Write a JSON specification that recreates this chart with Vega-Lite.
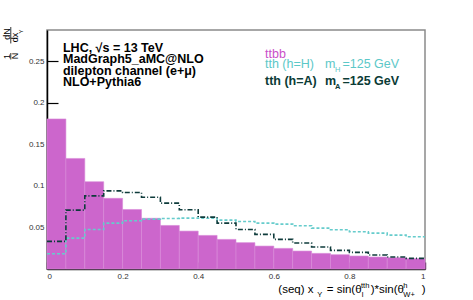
{
  "$schema": "https://vega.github.io/schema/vega-lite/v6.json",
  "width": 378,
  "height": 239,
  "autosize": {"type": "none"},
  "padding": {"left": 47, "top": 30, "right": 48, "bottom": 31},
  "background": "white",
  "config": {
    "view": {"stroke": "#8a8a8a", "strokeWidth": 1.5},
    "font": "Liberation Sans",
    "axis": {"grid": false, "zindex": 1}
  },
  "data": {
    "values": [
      {"x0": 0.00, "x1": 0.05, "ttbb": 0.1805, "tthH": 0.0184, "tthA": 0.0332},
      {"x0": 0.05, "x1": 0.10, "ttbb": 0.1330, "tthH": 0.0372, "tthA": 0.0708},
      {"x0": 0.10, "x1": 0.15, "ttbb": 0.1050, "tthH": 0.0476, "tthA": 0.0880},
      {"x0": 0.15, "x1": 0.20, "ttbb": 0.0850, "tthH": 0.0552, "tthA": 0.0940},
      {"x0": 0.20, "x1": 0.25, "ttbb": 0.0716, "tthH": 0.0580, "tthA": 0.0920},
      {"x0": 0.25, "x1": 0.30, "ttbb": 0.0610, "tthH": 0.0600, "tthA": 0.0864},
      {"x0": 0.30, "x1": 0.35, "ttbb": 0.0524, "tthH": 0.0608, "tthA": 0.0792},
      {"x0": 0.35, "x1": 0.40, "ttbb": 0.0456, "tthH": 0.0612, "tthA": 0.0712},
      {"x0": 0.40, "x1": 0.45, "ttbb": 0.0404, "tthH": 0.0610, "tthA": 0.0624},
      {"x0": 0.45, "x1": 0.50, "ttbb": 0.0356, "tthH": 0.0588, "tthA": 0.0552},
      {"x0": 0.50, "x1": 0.55, "ttbb": 0.0317, "tthH": 0.0572, "tthA": 0.0476},
      {"x0": 0.55, "x1": 0.60, "ttbb": 0.0276, "tthH": 0.0552, "tthA": 0.0416},
      {"x0": 0.60, "x1": 0.65, "ttbb": 0.0248, "tthH": 0.0540, "tthA": 0.0356},
      {"x0": 0.65, "x1": 0.70, "ttbb": 0.0216, "tthH": 0.0520, "tthA": 0.0312},
      {"x0": 0.70, "x1": 0.75, "ttbb": 0.0188, "tthH": 0.0492, "tthA": 0.0264},
      {"x0": 0.75, "x1": 0.80, "ttbb": 0.0172, "tthH": 0.0472, "tthA": 0.0224},
      {"x0": 0.80, "x1": 0.85, "ttbb": 0.0156, "tthH": 0.0448, "tthA": 0.0200},
      {"x0": 0.85, "x1": 0.90, "ttbb": 0.0144, "tthH": 0.0432, "tthA": 0.0168},
      {"x0": 0.90, "x1": 0.95, "ttbb": 0.0136, "tthH": 0.0408, "tthA": 0.0144},
      {"x0": 0.95, "x1": 1.00, "ttbb": 0.0125, "tthH": 0.0388, "tthA": 0.0128}
    ]
  },
  "layer": [
    {
      "mark": {"type": "rect", "color": "#CC66CC", "stroke": "#d98ad9", "strokeWidth": 0.6},
      "encoding": {
        "x": {
          "field": "x0", "type": "quantitative",
          "scale": {"domain": [0, 1], "nice": false, "zero": false},
          "axis": {
            "values": [0, 0.2, 0.4, 0.6, 0.8, 1],
            "format": ".1~f",
            "title": null,
            "domainColor": "#222",
            "domainWidth": 1.5,
            "tickColor": "#6a346a",
            "tickWidth": 1.5,
            "tickSize": -7,
            "labelPadding": 10,
            "labelFontSize": 8,
            "labelColor": "#333",
            "labelFont": "Liberation Sans"
          }
        },
        "x2": {"field": "x1"},
        "y": {
          "field": "ttbb", "type": "quantitative",
          "scale": {"domain": [0, 0.2875], "nice": false},
          "axis": {
            "values": [0.05, 0.1, 0.15, 0.2, 0.25],
            "format": "~g",
            "title": null,
            "domainColor": "black",
            "domainWidth": 1.5,
            "tickColor": "black",
            "tickWidth": 1.2,
            "tickSize": -11,
            "labelPadding": 14,
            "labelFontSize": 8,
            "labelColor": "#333",
            "labelFont": "Liberation Sans"
          }
        },
        "y2": {"datum": 0}
      }
    },
    {
      "transform": [{"fold": ["x0", "x1"], "as": ["edge", "xpos"]}],
      "mark": {"type": "line", "color": "#66CCCC", "strokeWidth": 1.6, "strokeDash": [3, 2]},
      "encoding": {
        "x": {"field": "xpos", "type": "quantitative"},
        "y": {"field": "tthH", "type": "quantitative"},
        "order": [{"field": "x0", "type": "quantitative"}, {"field": "edge", "type": "ordinal"}]
      }
    },
    {
      "transform": [{"fold": ["x0", "x1"], "as": ["edge", "xpos"]}],
      "mark": {"type": "line", "color": "#0E3B3B", "strokeWidth": 1.6, "strokeDash": [5, 2, 1, 2]},
      "encoding": {
        "x": {"field": "xpos", "type": "quantitative"},
        "y": {"field": "tthA", "type": "quantitative"},
        "order": [{"field": "x0", "type": "quantitative"}, {"field": "edge", "type": "ordinal"}]
      }
    },
    {
      "data": {"values": [{}]},
      "mark": {"type": "text", "text": "1", "angle": 270, "align": "center", "baseline": "middle", "fontSize": 9, "color": "black"},
      "encoding": {"x": {"datum": -0.1058}, "y": {"datum": 0.2556}}
    },
    {
      "data": {"values": [{}]},
      "mark": {"type": "text", "text": "N", "angle": 270, "align": "center", "baseline": "middle", "fontSize": 9, "color": "black"},
      "encoding": {"x": {"datum": -0.0847}, "y": {"datum": 0.2562}}
    },
    {
      "data": {"values": [{}]},
      "mark": {"type": "text", "text": "dN", "angle": 270, "align": "center", "baseline": "middle", "fontSize": 9, "color": "black"},
      "encoding": {"x": {"datum": -0.1058}, "y": {"datum": 0.2827}}
    },
    {
      "data": {"values": [{}]},
      "mark": {"type": "text", "text": "dx", "angle": 270, "align": "center", "baseline": "middle", "fontSize": 9, "color": "black"},
      "encoding": {"x": {"datum": -0.0847}, "y": {"datum": 0.2785}}
    },
    {
      "data": {"values": [{}]},
      "mark": {"type": "text", "text": "Y", "angle": 270, "align": "center", "baseline": "middle", "fontSize": 6, "color": "black"},
      "encoding": {"x": {"datum": -0.0675}, "y": {"datum": 0.2857}}
    },
    {
      "data": {"values": [{}]},
      "mark": {"type": "rule", "color": "black", "strokeWidth": 0.8},
      "encoding": {"x": {"datum": -0.0958}, "y": {"datum": 0.2520}, "y2": {"datum": 0.2598}}
    },
    {
      "data": {"values": [{}]},
      "mark": {"type": "rule", "color": "black", "strokeWidth": 0.8},
      "encoding": {"x": {"datum": -0.0958}, "y": {"datum": 0.2713}, "y2": {"datum": 0.2911}}
    },
    {
      "data": {"values": [{}]},
      "mark": {"type": "text", "text": ["LHC, √s = 13 TeV", "MadGraph5_aMC@NLO", "dilepton channel (e+μ)", "NLO+Pythia6"], "align": "left", "baseline": "alphabetic", "lineHeight": 11.6, "fontWeight": "bold", "fontSize": 12.5, "color": "black"},
      "encoding": {"x": {"datum": 0.0423}, "y": {"datum": 0.2615}}
    },
    {
      "data": {"values": [{}]},
      "mark": {"type": "text", "text": "ttbb", "align": "left", "baseline": "alphabetic", "fontSize": 12.5, "color": "#C94FC9"},
      "encoding": {"x": {"datum": 0.5767}, "y": {"datum": 0.2535}}
    },
    {
      "data": {"values": [{}]},
      "mark": {"type": "text", "text": "tth (h=H)", "align": "left", "baseline": "alphabetic", "fontSize": 12.5, "color": "#5CC8C8"},
      "encoding": {"x": {"datum": 0.5767}, "y": {"datum": 0.2418}}
    },
    {
      "data": {"values": [{}]},
      "mark": {"type": "text", "text": "m", "align": "left", "baseline": "alphabetic", "fontSize": 12.5, "color": "#5CC8C8"},
      "encoding": {"x": {"datum": 0.7354}, "y": {"datum": 0.2418}}
    },
    {
      "data": {"values": [{}]},
      "mark": {"type": "text", "text": "H", "align": "left", "baseline": "alphabetic", "fontSize": 7.5, "color": "#5CC8C8"},
      "encoding": {"x": {"datum": 0.7619}, "y": {"datum": 0.2370}}
    },
    {
      "data": {"values": [{}]},
      "mark": {"type": "text", "text": "=125 GeV", "align": "left", "baseline": "alphabetic", "fontSize": 12.5, "color": "#5CC8C8"},
      "encoding": {"x": {"datum": 0.7817}, "y": {"datum": 0.2418}}
    },
    {
      "data": {"values": [{}]},
      "mark": {"type": "text", "text": "tth (h=A)", "align": "left", "baseline": "alphabetic", "fontSize": 12.5, "fontWeight": "bold", "color": "#0B3B36"},
      "encoding": {"x": {"datum": 0.5767}, "y": {"datum": 0.2213}}
    },
    {
      "data": {"values": [{}]},
      "mark": {"type": "text", "text": "m", "align": "left", "baseline": "alphabetic", "fontSize": 12.5, "fontWeight": "bold", "color": "#0B3B36"},
      "encoding": {"x": {"datum": 0.7354}, "y": {"datum": 0.2213}}
    },
    {
      "data": {"values": [{}]},
      "mark": {"type": "text", "text": "A", "align": "left", "baseline": "alphabetic", "fontSize": 7.5, "fontWeight": "bold", "color": "#0B3B36"},
      "encoding": {"x": {"datum": 0.7619}, "y": {"datum": 0.2165}}
    },
    {
      "data": {"values": [{}]},
      "mark": {"type": "text", "text": "=125 GeV", "align": "left", "baseline": "alphabetic", "fontSize": 12.5, "fontWeight": "bold", "color": "#0B3B36"},
      "encoding": {"x": {"datum": 0.7817}, "y": {"datum": 0.2213}}
    },
    {
      "data": {"values": [{}]},
      "mark": {"type": "text", "text": "(seq) x", "align": "left", "baseline": "alphabetic", "fontSize": 11.5, "color": "black"},
      "encoding": {"x": {"datum": 0.6119}, "y": {"datum": -0.0285}}
    },
    {
      "data": {"values": [{}]},
      "mark": {"type": "text", "text": "Y", "align": "left", "baseline": "alphabetic", "fontSize": 7.5, "color": "black"},
      "encoding": {"x": {"datum": 0.7151}, "y": {"datum": -0.0331}}
    },
    {
      "data": {"values": [{}]},
      "mark": {"type": "text", "text": "= sin(θ", "align": "left", "baseline": "alphabetic", "fontSize": 11.5, "color": "black"},
      "encoding": {"x": {"datum": 0.7400}, "y": {"datum": -0.0285}}
    },
    {
      "data": {"values": [{}]},
      "mark": {"type": "text", "text": "l", "align": "left", "baseline": "alphabetic", "fontSize": 7.5, "color": "black"},
      "encoding": {"x": {"datum": 0.8325}, "y": {"datum": -0.0331}}
    },
    {
      "data": {"values": [{}]},
      "mark": {"type": "text", "text": "tth", "align": "left", "baseline": "alphabetic", "fontSize": 7.5, "color": "black"},
      "encoding": {"x": {"datum": 0.8307}, "y": {"datum": -0.0223}}
    },
    {
      "data": {"values": [{}]},
      "mark": {"type": "text", "text": ")*sin(θ", "align": "left", "baseline": "alphabetic", "fontSize": 11.5, "color": "black"},
      "encoding": {"x": {"datum": 0.8563}, "y": {"datum": -0.0285}}
    },
    {
      "data": {"values": [{}]},
      "mark": {"type": "text", "text": "h", "align": "left", "baseline": "alphabetic", "fontSize": 7.5, "color": "black"},
      "encoding": {"x": {"datum": 0.9426}, "y": {"datum": -0.0223}}
    },
    {
      "data": {"values": [{}]},
      "mark": {"type": "text", "text": "W+", "align": "left", "baseline": "alphabetic", "fontSize": 7.5, "color": "black"},
      "encoding": {"x": {"datum": 0.9426}, "y": {"datum": -0.0331}}
    },
    {
      "data": {"values": [{}]},
      "mark": {"type": "text", "text": ")", "align": "left", "baseline": "alphabetic", "fontSize": 11.5, "color": "black"},
      "encoding": {"x": {"datum": 0.9913}, "y": {"datum": -0.0285}}
    }
  ]
}
